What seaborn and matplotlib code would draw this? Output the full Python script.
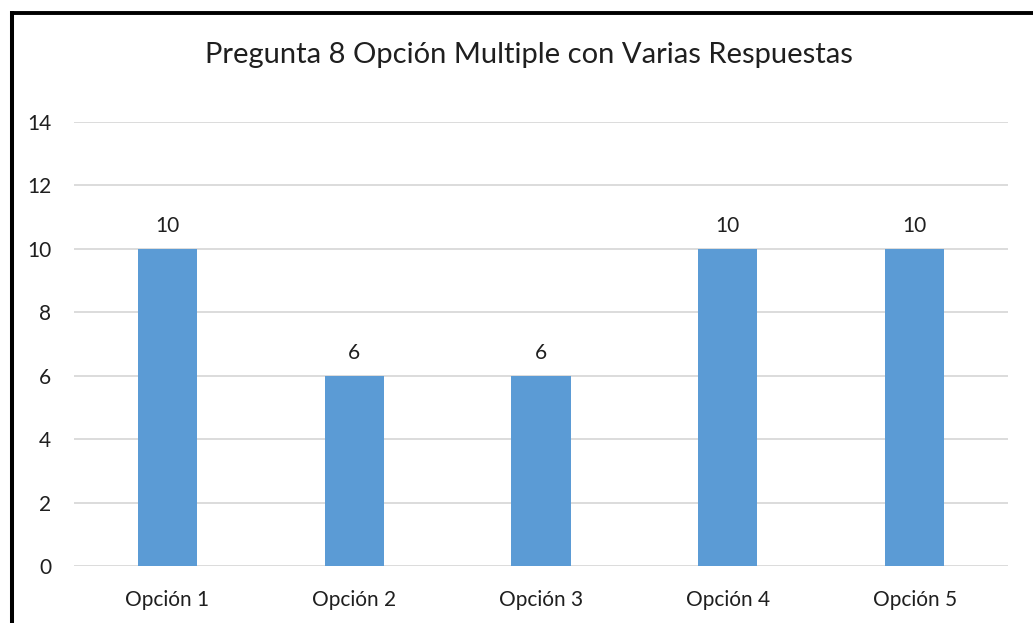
import matplotlib
matplotlib.use("Agg")
import matplotlib.pyplot as plt
import seaborn as sns
import pandas as pd
from matplotlib.lines import Line2D

categories = ["Opción 1", "Opción 2", "Opción 3", "Opción 4", "Opción 5"]
values = [10, 6, 6, 10, 10]
title = "Pregunta 8 Opción Multiple con Varias Respuestas"
yticks = [0, 2, 4, 6, 8, 10, 12, 14]

sns.set_theme(style="white")
plt.rcParams['font.family'] = ['Lato', 'DejaVu Sans']

W, H = 1033, 623
fig = plt.figure(figsize=(W / 100, H / 100), dpi=100)
fig.patch.set_facecolor("white")
ax = fig.add_axes([74 / W, (H - 566) / H, (1008 - 74) / W, (566 - 122) / H])

df = pd.DataFrame({"cat": categories, "val": values})
sns.barplot(data=df, x="cat", y="val", color="#5B9BD5", saturation=1, width=0.316,
            linewidth=0, ax=ax, zorder=3)

ax.set_ylim(0, 14)
ax.set_xlim(-0.5, len(categories) - 0.5)
ax.set_yticks(yticks)
ax.yaxis.grid(True, color="#D9D9D9", linewidth=1.3, zorder=0)
ax.set_axisbelow(True)
for s in ax.spines.values():
    s.set_visible(False)
ax.set_xlabel("")
ax.set_ylabel("")
ax.tick_params(axis="both", length=0, labelsize=15, colors="#1f1f1f")
ax.tick_params(axis="y", pad=16.5)
ax.tick_params(axis="x", pad=17)

for c in ax.containers:
    ax.bar_label(c, labels=[str(v) for v in values], padding=9, fontsize=15, color="#1f1f1f")

fig.text(529 / W, 1 - 55 / H, title, ha="center", va="center", fontsize=21, color="#1f1f1f")

# frame lines (cropped chart border)
fig.add_artist(Line2D([10 / W, 1.0], [1 - 12.5 / H, 1 - 12.5 / H], color="black", linewidth=2.8,
                      solid_capstyle="butt", transform=fig.transFigure))
fig.add_artist(Line2D([12 / W, 12 / W], [0, 1 - 10.5 / H], color="black", linewidth=2.9,
                      solid_capstyle="butt", transform=fig.transFigure))

fig.savefig("out.png", dpi=100)
